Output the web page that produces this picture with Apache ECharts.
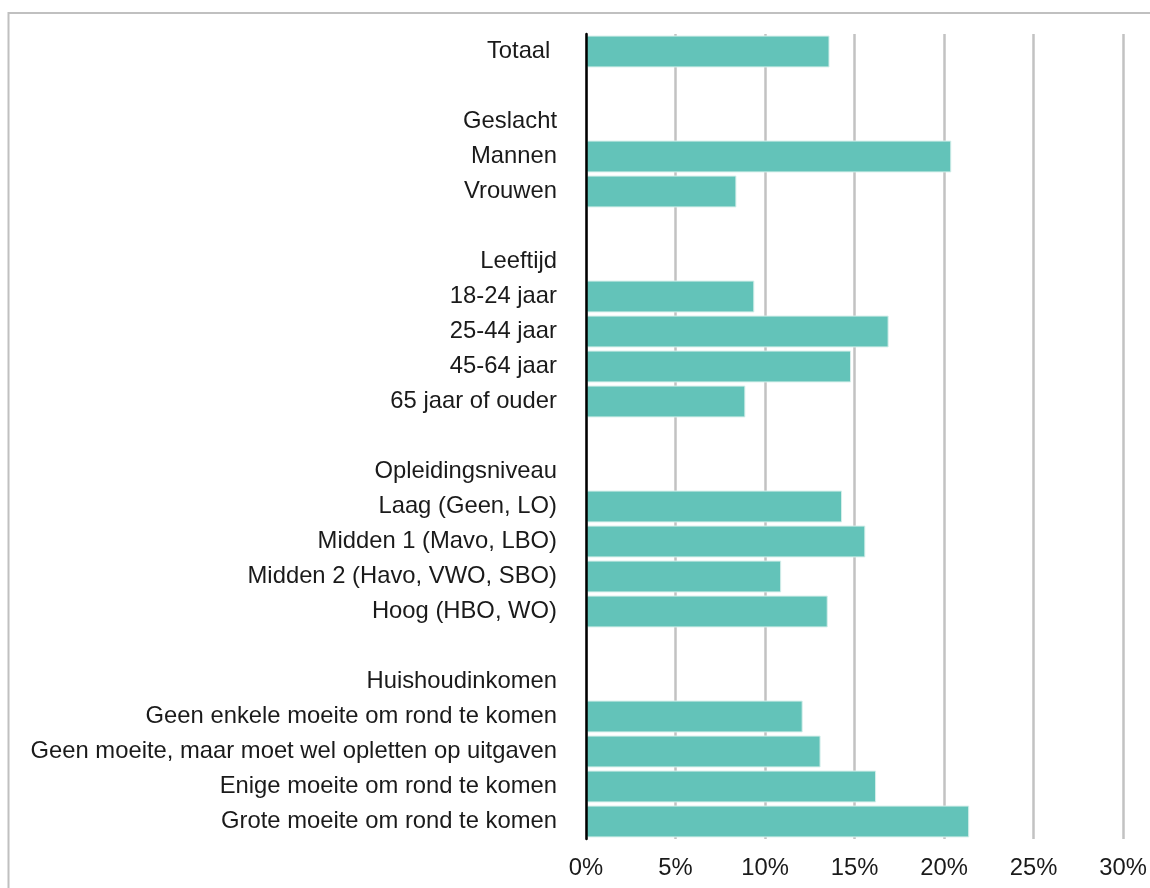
<!DOCTYPE html>
<html>
<head>
<meta charset="utf-8">
<script src="https://cdn.jsdelivr.net/npm/echarts@6/dist/echarts.min.js"></script>
<style>
html,body{margin:0;padding:0;background:#fff;}
#chart{width:1150px;height:888px;}
</style>
</head>
<body>
<div id="chart"></div>
<script>
const categories = ['Totaal ', '', 'Geslacht', 'Mannen', 'Vrouwen', '', 'Leeftijd', '18-24 jaar', '25-44 jaar', '45-64 jaar', '65 jaar of ouder', '', 'Opleidingsniveau', 'Laag (Geen, LO)', 'Midden 1 (Mavo, LBO)', 'Midden 2 (Havo, VWO, SBO)', 'Hoog (HBO, WO)', '', 'Huishoudinkomen', 'Geen enkele moeite om rond te komen', 'Geen moeite, maar moet wel opletten op uitgaven', 'Enige moeite om rond te komen', 'Grote moeite om rond te komen'];
const values = [13.6, null, null, 20.4, 8.4, null, null, 9.4, 16.9, 14.8, 8.9, null, null, 14.3, 15.6, 10.9, 13.5, null, null, 12.1, 13.1, 16.2, 21.4];
const xMin = 0, xMax = 30, xStep = 5;

const chart = echarts.init(document.getElementById('chart'));
const font = '"Liberation Sans", Arial, Helvetica, sans-serif';
chart.setOption({
  animation: false,
  backgroundColor: '#fff',
  graphic: [{
    type: 'rect',
    shape: {x: 8.5, y: 13, width: 1300, height: 1000},
    style: {fill: 'none', stroke: '#c0c0c0', lineWidth: 2},
    silent: true
  }],
  grid: {left: 586, right: 21, top: 34, bottom: 49, containLabel: false},
  xAxis: {
    type: 'value', min: xMin, max: xMax, interval: xStep,
    axisLine: {show: false},
    axisTick: {show: false},
    splitLine: {show: true, lineStyle: {color: '#c2c2c2', width: 2.5}},
    axisLabel: {
      formatter: v => v + '%',
      color: '#1a1a1a', fontSize: 23.8, fontFamily: font, margin: 17
    }
  },
  yAxis: {
    type: 'category', data: categories, inverse: true, z: 3,
    axisLine: {show: true, lineStyle: {color: '#000', width: 2.5}},
    axisTick: {show: false},
    axisLabel: {color: '#1a1a1a', fontSize: 23.8, fontFamily: font, margin: 29, interval: 0, padding: [4, 0, 0, 0]}
  },
  series: [{
    type: 'bar', data: values,
    barCategoryGap: '9%',
    itemStyle: {color: '#63c3b9', borderColor: '#d6efeb', borderWidth: 1},
    z: 1
  }]
});
</script>
</body>
</html>
